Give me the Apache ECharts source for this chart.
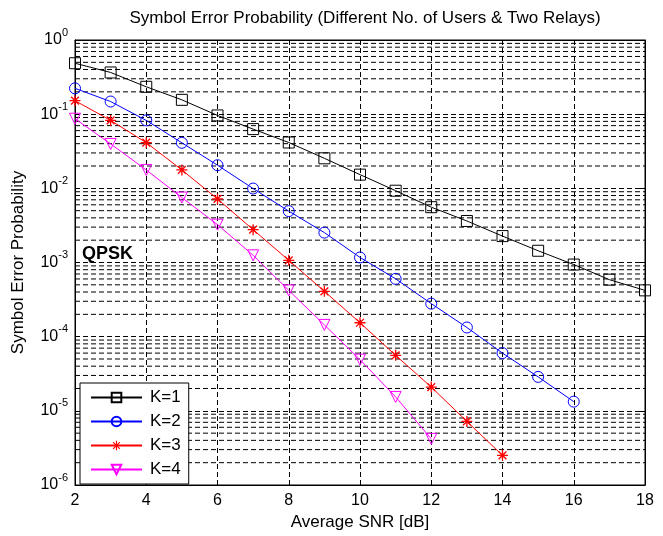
<!DOCTYPE html>
<html>
<head>
<meta charset="utf-8">
<script src="https://cdn.jsdelivr.net/npm/echarts@6/dist/echarts.min.js"></script>
<style>
  html, body { margin: 0; padding: 0; background: #fff; }
  #main { width: 663px; height: 536px; }
</style>
</head>
<body>
<div id="main"></div>
<script>
// SNR in dB
const snr = [2, 3, 4, 5, 6, 7, 8, 9, 10, 11, 12, 13, 14, 15, 16, 17, 18];

// symbol error probability
const serK1 = [0.486, 0.365, 0.234, 0.156, 0.0961, 0.0629, 0.0415, 0.0254, 0.0153,
  0.00929, 0.00557, 0.00363, 0.00227, 0.00144, 0.000938, 0.000587, 0.000421];
const serK2 = [0.223, 0.148, 0.0824, 0.0411, 0.0205, 0.00993, 0.00493, 0.00253, 0.00117,
  0.000602, 0.000279, 0.000133, 0.0000600, 0.0000287, 0.0000133];
const serK3 = [0.152, 0.0824, 0.0413, 0.0177, 0.00719, 0.00277, 0.00107, 0.000409,
  0.000154, 0.0000560, 0.0000209, 0.00000720, 0.00000251];
const serK4 = [0.0868, 0.0397, 0.0177, 0.00751, 0.00324, 0.00125, 0.000421, 0.000144,
  0.0000490, 0.0000154, 0.00000419];

const xTicks = [2, 4, 6, 8, 10, 12, 14, 16, 18];
const decades = [-6, -5, -4, -3, -2, -1];
const mantissas = [2, 3, 4, 5, 6, 7, 8, 9];

// minor log grid lines (2..9 x 10^n), one broken line series
let minorLines = [];
decades.forEach(function (n) {
  mantissas.forEach(function (k) {
    let v = k * Math.pow(10, n);
    minorLines.push([2, v], [18, v], [18, '-']);
  });
});

function pairs(ys) {
  return ys.map(function (v, i) { return [snr[i], v]; });
}

const star = 'path://M0 8.8H20V11.2H0Z M8.8 0H11.2V20H8.8Z M2.1 3.8L3.8 2.1L17.9 16.2L16.2 17.9Z M16.2 2.1L17.9 3.8L3.8 17.9L2.1 16.2Z';
const dash = [5, 3];
const font = 'Liberation Sans';

let chartDom = document.getElementById('main');
let myChart = echarts.init(chartDom);
let option;

option = {
  backgroundColor: '#fff',
  animation: false,
  title: {
    text: 'Symbol Error Probability (Different No. of Users & Two Relays)',
    left: 360,
    top: 5,
    textAlign: 'center',
    textStyle: { fontFamily: font, fontSize: 17, fontWeight: 'normal', color: '#000' }
  },
  grid: {
    left: 75, right: 18, top: 40, bottom: 46,
    show: true, borderColor: '#000', borderWidth: 1, backgroundColor: '#fff'
  },
  legend: {
    orient: 'vertical',
    left: 80,
    top: 383,
    data: ['K=1', 'K=2', 'K=3', 'K=4'],
    itemWidth: 51,
    itemHeight: 12,
    itemGap: 7,
    padding: [6, 8, 6, 10],
    backgroundColor: '#fff',
    borderColor: '#000',
    borderWidth: 1,
    borderRadius: 0,
    textStyle: { fontFamily: font, fontSize: 17, color: '#000', padding: [0, 0, 0, 3] }
  },
  xAxis: [{
    type: 'value',
    min: 2, max: 18, interval: 2,
    name: 'Average SNR [dB]',
    nameLocation: 'middle',
    nameGap: 29,
    nameTextStyle: { fontFamily: font, fontSize: 17, color: '#000' },
    axisLine: { show: true, lineStyle: { color: '#000' } },
    axisTick: { inside: true, length: 5, lineStyle: { color: '#000' } },
    axisLabel: { fontFamily: font, fontSize: 16, color: '#000', margin: 8,
      formatter: function (v) { return xTicks.indexOf(v) >= 0 ? String(v) : ''; } },
    splitLine: { show: true, lineStyle: { color: '#000', type: dash, width: 1 } }
  }, {
    type: 'value', position: 'top',
    min: 2, max: 18, interval: 2,
    axisLine: { show: true, lineStyle: { color: '#000' } },
    axisTick: { inside: true, length: 5, lineStyle: { color: '#000' } },
    axisLabel: { show: false },
    splitLine: { show: false }
  }],
  yAxis: [{
    type: 'log',
    logBase: 10,
    min: 1e-6, max: 1,
    splitNumber: 6,
    name: 'Symbol Error Probability',
    nameLocation: 'middle',
    nameGap: 48,
    nameTextStyle: { fontFamily: font, fontSize: 17, color: '#000' },
    axisLine: { show: true, lineStyle: { color: '#000' } },
    axisTick: { inside: true, length: 5, lineStyle: { color: '#000' } },
    axisLabel: {
      margin: 7,
      formatter: function (v) {
        return '{b|10}{s|' + Math.round(Math.log10(v)) + '}';
      },
      rich: {
        b: { fontFamily: font, fontSize: 16, color: '#000', lineHeight: 16, verticalAlign: 'middle' },
        s: { fontFamily: font, fontSize: 11, color: '#000', lineHeight: 11, padding: [0, 0, 15, 0], verticalAlign: 'middle' }
      }
    },
    splitLine: { show: true, lineStyle: { color: '#000', type: dash, width: 1 } }
  }, {
    type: 'log', position: 'right',
    logBase: 10,
    min: 1e-6, max: 1,
    splitNumber: 6,
    axisLine: { show: true, lineStyle: { color: '#000' } },
    axisTick: { inside: true, length: 5, lineStyle: { color: '#000' } },
    axisLabel: { show: false },
    splitLine: { show: false }
  }],
  graphic: [{
    type: 'text',
    left: 82,
    top: 245,
    style: { text: 'QPSK', fontFamily: font, fontSize: 18, fontWeight: 'bold', fill: '#000' }
  }],
  series: [
    {
      name: 'grid',
      type: 'line',
      data: minorLines,
      z: 1,
      silent: true,
      showSymbol: false,
      connectNulls: false,
      lineStyle: { color: '#000', type: dash, width: 1 }
    },
    {
      name: 'K=1', type: 'line', data: pairs(serK1), z: 3,
      symbol: 'rect', symbolSize: 11,
      lineStyle: { color: '#000', width: 1 },
      itemStyle: { color: 'rgba(0,0,0,0)', borderColor: '#000', borderWidth: 1 }
    },
    {
      name: 'K=2', type: 'line', data: pairs(serK2), z: 3,
      symbol: 'circle', symbolSize: 11,
      lineStyle: { color: '#0000ff', width: 1 },
      itemStyle: { color: 'rgba(0,0,0,0)', borderColor: '#0000ff', borderWidth: 1 }
    },
    {
      name: 'K=3', type: 'line', data: pairs(serK3), z: 3,
      symbol: star, symbolSize: 11,
      lineStyle: { color: '#ff0000', width: 1 },
      itemStyle: { color: '#ff0000', borderWidth: 0 }
    },
    {
      name: 'K=4', type: 'line', data: pairs(serK4), z: 3,
      symbol: 'triangle', symbolSize: 11, symbolRotate: 180,
      lineStyle: { color: '#ff00ff', width: 1 },
      itemStyle: { color: 'rgba(0,0,0,0)', borderColor: '#ff00ff', borderWidth: 1 }
    }
  ]
};

option && myChart.setOption(option);
</script>
</body>
</html>
